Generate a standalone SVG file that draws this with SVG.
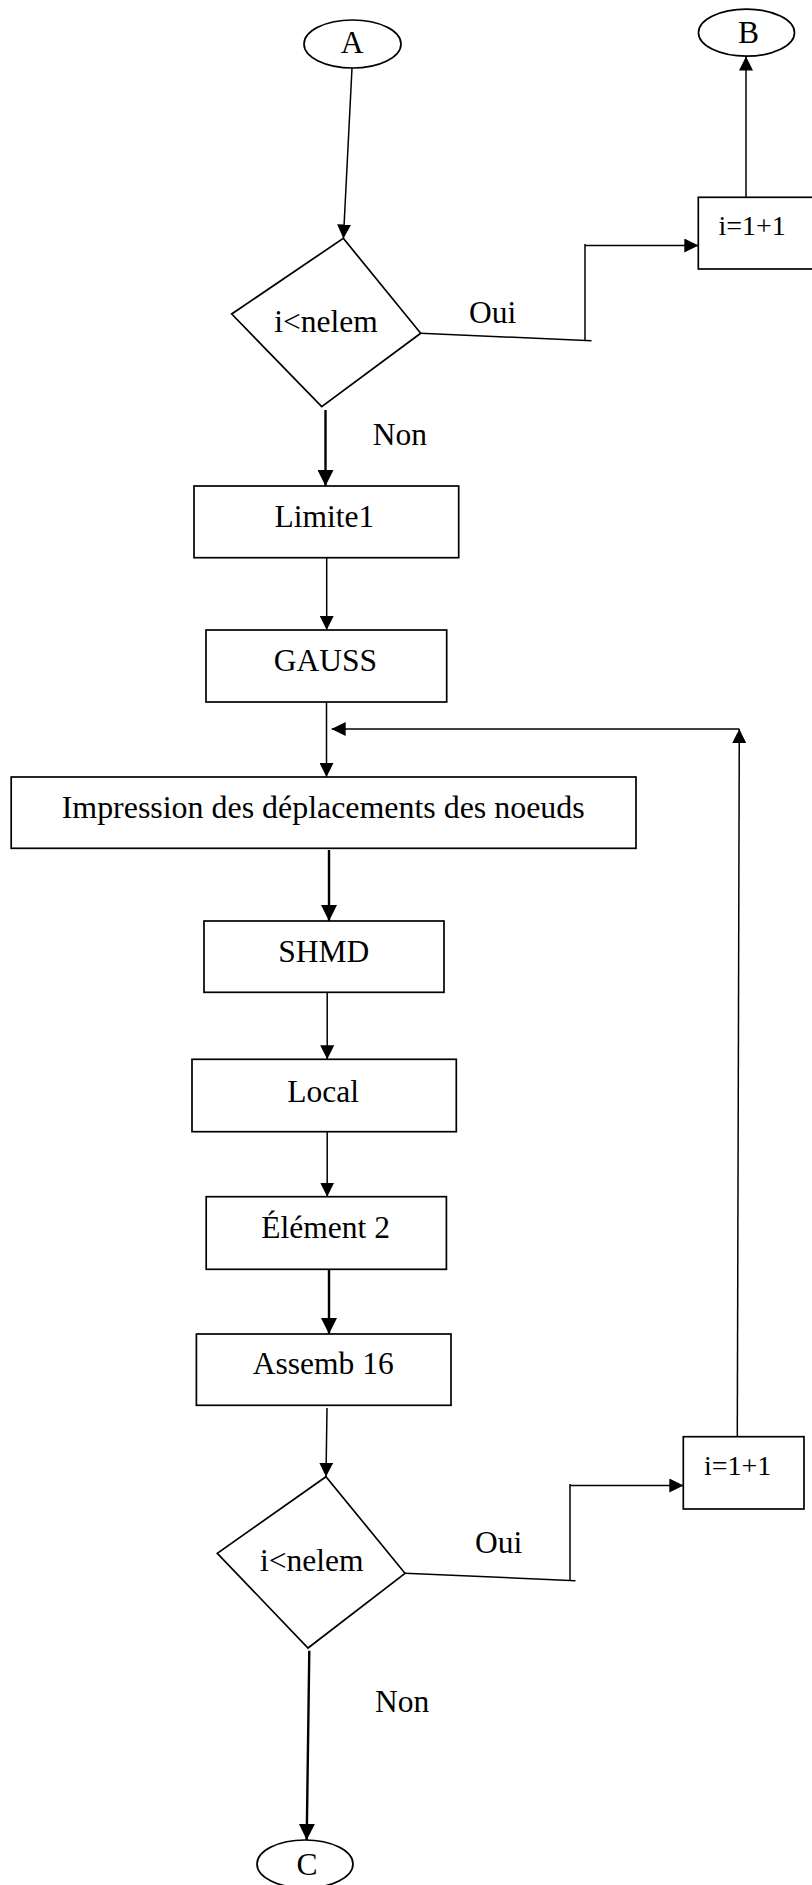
<svg xmlns="http://www.w3.org/2000/svg" width="812" height="1885" viewBox="0 0 812 1885">
<style>
.shape{fill:#fff;stroke:#000;stroke-width:1.7}
.ln{fill:none;stroke:#000;stroke-width:1.5}
.thick{stroke-width:2.4}
text{font-family:"Liberation Serif","Times New Roman",serif;font-size:31.5px;fill:#000}
.mid{text-anchor:middle}
.sm{font-size:28px}
</style>
<defs>
<marker id="ah" markerUnits="userSpaceOnUse" markerWidth="14" markerHeight="14" viewBox="0 0 14 14" refX="14" refY="7" orient="auto">
<path d="M0,0 L14,7 L0,14 z" fill="#000"/>
</marker>
<marker id="ahb" markerUnits="userSpaceOnUse" markerWidth="16" markerHeight="16" viewBox="0 0 16 16" refX="16" refY="8" orient="auto">
<path d="M0,0 L16,8 L0,16 z" fill="#000"/>
</marker>
</defs>
<g id="connectors">
<line class="ln" x1="352" y1="68" x2="343.4" y2="238.5" marker-end="url(#ah)"/>
<line class="ln" x1="420.7" y1="333.3" x2="591.5" y2="340.7"/>
<line class="ln" x1="585" y1="341" x2="585" y2="244"/>
<line class="ln" x1="585" y1="245.5" x2="698.3" y2="245.5" marker-end="url(#ah)"/>
<line class="ln" x1="746" y1="197.3" x2="746" y2="56.5" marker-end="url(#ah)"/>
<line class="ln thick" x1="325.5" y1="410" x2="325.5" y2="486" marker-end="url(#ahb)"/>
<line class="ln" x1="326.7" y1="557.7" x2="326.7" y2="630" marker-end="url(#ah)"/>
<line class="ln" x1="326.5" y1="702" x2="326.5" y2="777" marker-end="url(#ah)"/>
<line class="ln" x1="737.3" y1="1436.7" x2="739.3" y2="729" marker-end="url(#ah)"/>
<line class="ln" x1="739.3" y1="729" x2="331.7" y2="729" marker-end="url(#ah)"/>
<line class="ln thick" x1="329" y1="850" x2="329" y2="921" marker-end="url(#ahb)"/>
<line class="ln" x1="327.2" y1="990" x2="327.2" y2="1059.3" marker-end="url(#ah)"/>
<line class="ln" x1="327.2" y1="1129" x2="327.2" y2="1196.7" marker-end="url(#ah)"/>
<line class="ln thick" x1="329" y1="1267" x2="329" y2="1334" marker-end="url(#ahb)"/>
<line class="ln" x1="327" y1="1408" x2="326" y2="1476.7" marker-end="url(#ah)"/>
<line class="ln" x1="405" y1="1573.3" x2="575.5" y2="1580.7"/>
<line class="ln" x1="570" y1="1581" x2="570" y2="1484"/>
<line class="ln" x1="570" y1="1485.5" x2="683.3" y2="1485.5" marker-end="url(#ah)"/>
<line class="ln thick" x1="309.3" y1="1650.7" x2="306.7" y2="1840" marker-end="url(#ahb)"/>
</g>
<g id="startA">
<ellipse class="shape" cx="352.5" cy="44" rx="48.5" ry="24"/>
<text class="mid" x="352" y="53">A</text>
</g>
<g id="endB">
<ellipse class="shape" cx="746.5" cy="32.7" rx="48" ry="23.5"/>
<text class="mid" x="748.5" y="43">B</text>
</g>
<g id="decision1">
<polygon class="shape" points="343.3,238.3 420.7,333.3 321.7,406.7 231.7,314"/>
<text class="mid" x="326" y="332">i&lt;nelem</text>
</g>
<g id="label-oui1"><text x="469" y="323">Oui</text></g>
<g id="label-non1"><text x="372.7" y="445">Non</text></g>
<g id="incr1">
<rect class="shape" x="698.3" y="197.3" width="130" height="71.7"/>
<text class="sm" x="718.5" y="235">i=1+1</text>
</g>
<g id="limite1">
<rect class="shape" x="194" y="486" width="264.7" height="71.7"/>
<text class="mid" x="324.3" y="527">Limite1</text>
</g>
<g id="gauss">
<rect class="shape" x="206" y="630" width="240.7" height="72"/>
<text class="mid" x="325.5" y="671">GAUSS</text>
</g>
<g id="impression">
<rect class="shape" x="11.2" y="777" width="624.8" height="71.3"/>
<text class="mid" x="323.2" y="818" textLength="523" lengthAdjust="spacingAndGlyphs">Impression des déplacements des noeuds</text>
</g>
<g id="shmd">
<rect class="shape" x="204" y="921" width="240" height="71.3"/>
<text class="mid" x="323.7" y="962">SHMD</text>
</g>
<g id="local">
<rect class="shape" x="192" y="1059.3" width="264.3" height="72.4"/>
<text class="mid" x="323.2" y="1102">Local</text>
</g>
<g id="element2">
<rect class="shape" x="206.2" y="1196.7" width="240.2" height="72.6"/>
<text class="mid" x="325.6" y="1238">Élément 2</text>
</g>
<g id="assemb16">
<rect class="shape" x="196.4" y="1334" width="254.6" height="71.3"/>
<text class="mid" x="323.3" y="1374">Assemb 16</text>
</g>
<g id="decision2">
<polygon class="shape" points="326,1476.7 405,1573.3 308,1648 217.3,1553.3"/>
<text class="mid" x="311.7" y="1570.7">i&lt;nelem</text>
</g>
<g id="label-oui2"><text x="475" y="1553">Oui</text></g>
<g id="label-non2"><text x="375" y="1712">Non</text></g>
<g id="incr2">
<rect class="shape" x="683.3" y="1436.7" width="120.7" height="72.3"/>
<text class="sm" x="704" y="1475">i=1+1</text>
</g>
<g id="endC">
<ellipse class="shape" cx="305" cy="1864" rx="48" ry="24"/>
<text class="mid" x="307" y="1875">C</text>
</g>
</svg>
